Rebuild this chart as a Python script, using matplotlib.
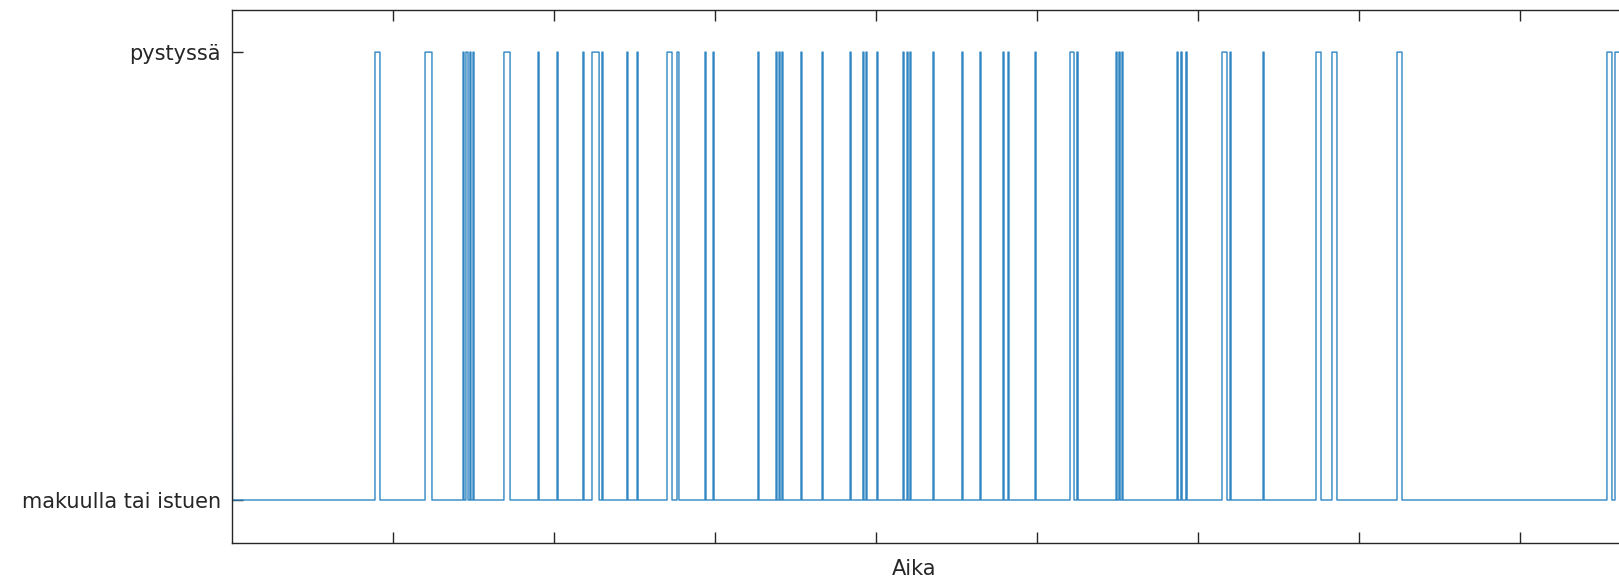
import matplotlib
matplotlib.use("Agg")
import matplotlib.pyplot as plt

# asento ajan funktiona (0 = makuulla tai istuen, 1 = pystyssä)
# nousut ja laskut aika-akselin yksiköissä
rise_times = [0.888, 1.199, 1.435, 1.453, 1.478, 1.497, 1.689, 1.901, 2.019, 2.180,
              2.236, 2.298, 2.453, 2.516, 2.702, 2.764, 2.938, 2.988, 3.267, 3.379,
              3.398, 3.416, 3.534, 3.665, 3.839, 3.919, 3.938, 4.006, 4.168, 4.193,
              4.211, 4.354, 4.534, 4.646, 4.789, 4.820, 4.988, 5.205, 5.248, 5.491,
              5.509, 5.528, 5.870, 5.894, 5.925, 6.149, 6.199, 6.404, 6.733, 6.832,
              7.236, 8.540, 8.590]
fall_times = [0.919, 1.242, 1.441, 1.466, 1.484, 1.503, 1.727, 1.907, 2.025, 2.186,
              2.280, 2.304, 2.459, 2.522, 2.733, 2.776, 2.944, 2.994, 3.273, 3.385,
              3.404, 3.422, 3.540, 3.671, 3.845, 3.925, 3.944, 4.012, 4.174, 4.199,
              4.217, 4.360, 4.540, 4.652, 4.795, 4.826, 4.994, 5.230, 5.255, 5.497,
              5.516, 5.534, 5.876, 5.901, 5.932, 6.180, 6.205, 6.410, 6.764, 6.863,
              7.267, 8.571, 9.000]
start_state = 1
first_drop = 0.003
y_labels = ["makuulla tai istuen", "pystyssä"]
x_label = "Aika"

# rakennetaan askelsignaali
t = [0.0, first_drop]
s = [start_state, 0]
for r, f in zip(rise_times, fall_times):
    t += [r, r, f, f]
    s += [0, 1, 1, 0]
t = t[:-1]
s = s[:-1]

fig = plt.figure(figsize=(16.19, 5.83), dpi=100)
ax = fig.add_axes([0.1433, 0.0686, 0.8950, 0.9142])
ax.plot(t, s, color="#2f86c3", lw=1.0)

ax.set_xlim(0, 9)
ax.set_ylim(-0.096, 1.094)
ax.set_xticks(range(1, 9))
ax.set_xticklabels([])
ax.set_yticks([0, 1])
ax.set_yticklabels(y_labels)
ax.tick_params(direction="in", length=8, width=1, colors="#262626",
               labelsize=15, top=True, right=True, pad=8)
for sp in ax.spines.values():
    sp.set_color("#262626")
    sp.set_linewidth(1.0)

ax.set_xlabel(x_label, fontsize=15, color="#262626")
ax.xaxis.set_label_coords(0.4707, -0.03)

plt.savefig("out.png", dpi=100)
